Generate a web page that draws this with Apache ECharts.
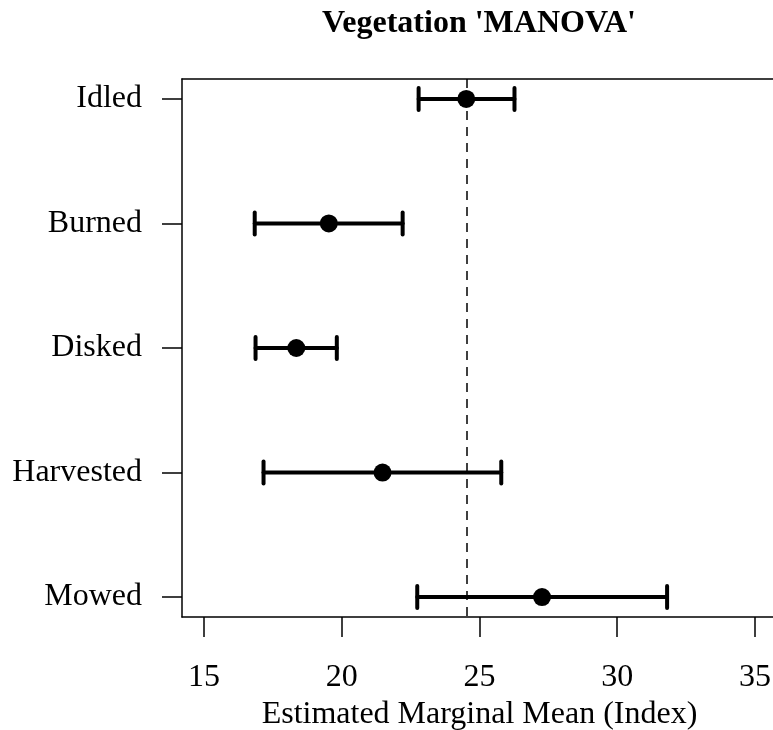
<!DOCTYPE html>
<html>
<head>
<meta charset="utf-8">
<script src="https://cdn.jsdelivr.net/npm/echarts@6/dist/echarts.min.js"></script>
<style>
  html, body { margin: 0; padding: 0; background: #fff; overflow: hidden; }
  /* the box runs past the right edge of the 773px window, as in the original */
  #chart { width: 800px; height: 730px; }
</style>
</head>
<body>
<div id="chart"></div>
<script>
  // treatment groups, top to bottom
  const categories = ['Idled', 'Burned', 'Disked', 'Harvested', 'Mowed']
  const means = [24.52, 19.53, 18.35, 21.48, 27.27]
  const lower = [22.79, 16.84, 16.87, 17.16, 22.74]
  const upper = [26.27, 22.21, 19.82, 25.79, 31.81]
  const refLine = 24.52
  const xTicks = [15, 20, 25, 30, 35]
  const yTicks = [1, 2, 3, 4, 5]

  const font = 'Liberation Serif'
  const xMin = 14.2
  const xMax = 35.8

  const chart = echarts.init(document.getElementById('chart'), null, { renderer: 'canvas' })

  const barData = categories.map((c, i) => [lower[i], upper[i], i + 1])
  const pointData = categories.map((c, i) => [means[i], i + 1])

  chart.setOption({
    animation: false,
    title: {
      text: "Vegetation 'MANOVA'",
      left: 479,
      top: 8,
      padding: 0,
      textAlign: 'center',
      textStyle: {
        fontFamily: font,
        fontSize: 32,
        fontWeight: 'bold',
        color: '#000'
      }
    },
    grid: {
      left: 182,
      right: 23,
      top: 79,
      bottom: 113,
      containLabel: false,
      outerBoundsMode: 'none',
      show: false
    },
    xAxis: [{
      type: 'value',
      min: xMin,
      max: xMax,
      name: 'Estimated Marginal Mean (Index)',
      nameLocation: 'middle',
      nameGap: 93,
      nameTextStyle: {
        fontFamily: font,
        fontSize: 32,
        color: '#000',
        verticalAlign: 'middle'
      },
      splitLine: { show: false },
      axisLine: { show: true, lineStyle: { color: '#000', width: 1.5 } },
      axisTick: {
        show: true,
        length: 20,
        customValues: xTicks,
        lineStyle: { color: '#000', width: 1.5 }
      },
      axisLabel: {
        customValues: xTicks,
        margin: 61,
        verticalAlign: 'middle',
        fontFamily: font,
        fontSize: 32,
        color: '#000'
      }
    }, {
      // top edge of the box
      type: 'value',
      position: 'top',
      min: xMin,
      max: xMax,
      splitLine: { show: false },
      axisLine: { show: true, lineStyle: { color: '#000', width: 1.5 } },
      axisTick: { show: false },
      axisLabel: { show: false }
    }],
    yAxis: [{
      type: 'value',
      min: 0.84,
      max: 5.16,
      inverse: true,
      splitLine: { show: false },
      axisLine: { show: true, lineStyle: { color: '#000', width: 1.5 } },
      axisTick: {
        show: true,
        length: 20,
        customValues: yTicks,
        lineStyle: { color: '#000', width: 1.5 }
      },
      axisLabel: {
        customValues: yTicks,
        margin: 40,
        verticalAlign: 'middle',
        padding: [4, 0, 0, 0],
        fontFamily: font,
        fontSize: 32,
        color: '#000',
        formatter: v => categories[Math.round(v) - 1] || ''
      }
    }, {
      // right edge of the box, falls outside the window
      type: 'value',
      position: 'right',
      min: 0.84,
      max: 5.16,
      inverse: true,
      splitLine: { show: false },
      axisLine: { show: true, lineStyle: { color: '#000', width: 1.5 } },
      axisTick: { show: false },
      axisLabel: { show: false }
    }],
    series: [
      {
        type: 'custom',
        name: 'interval',
        data: barData,
        encode: { x: [0, 1], y: 2 },
        renderItem(params, api) {
          const y = api.value(2)
          const a = api.coord([api.value(0), y])
          const b = api.coord([api.value(1), y])
          const h = 11
          const style = { stroke: '#000', lineWidth: 4, lineCap: 'round' }
          return {
            type: 'group',
            children: [
              { type: 'line', shape: { x1: a[0], y1: a[1], x2: b[0], y2: b[1] }, style },
              { type: 'line', shape: { x1: a[0], y1: a[1] - h, x2: a[0], y2: a[1] + h }, style },
              { type: 'line', shape: { x1: b[0], y1: b[1] - h, x2: b[0], y2: b[1] + h }, style }
            ]
          }
        },
        z: 2
      },
      {
        type: 'scatter',
        name: 'mean',
        data: pointData,
        symbol: 'circle',
        symbolSize: 18,
        itemStyle: { color: '#000', opacity: 1 },
        z: 3,
        markLine: {
          silent: true,
          symbol: 'none',
          label: { show: false },
          lineStyle: { color: '#000', width: 1.5, type: [9, 7] },
          data: [{ xAxis: refLine }]
        }
      }
    ]
  })
</script>
</body>
</html>
